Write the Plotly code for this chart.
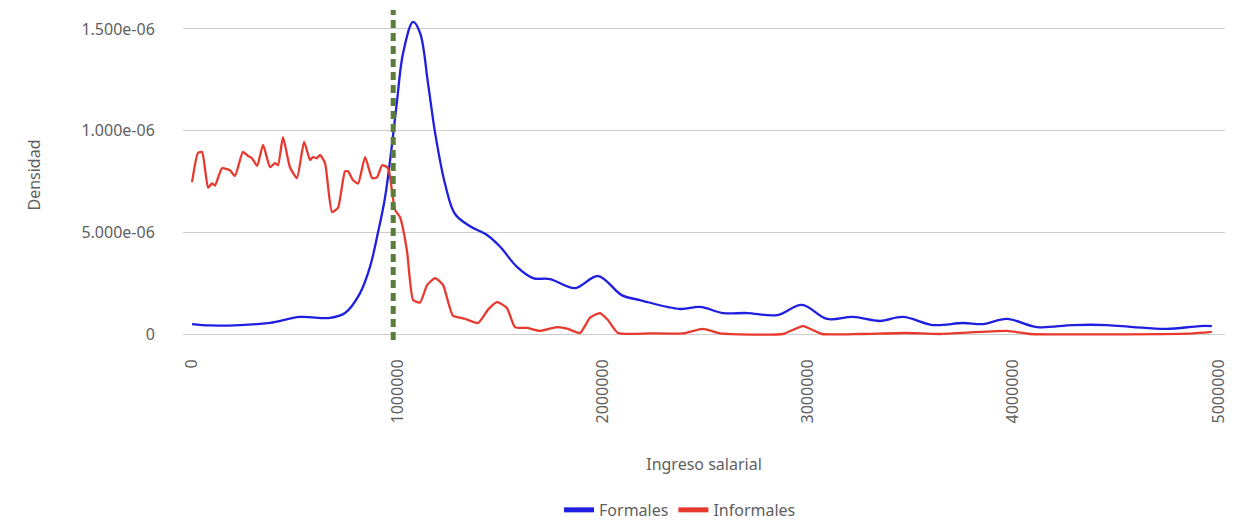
import plotly.graph_objects as go

# Curvas de densidad
ingreso_formales = [0, 88000, 234000, 380000, 526000, 672000, 745000, 818000, 867000, 906000,
                    940000, 974000, 999000, 1028000, 1077000, 1111000, 1150000, 1184000, 1232000,
                    1281000, 1354000, 1437000, 1500000, 1583000, 1661000, 1744000, 1866000,
                    1978000, 2095000, 2182000, 2377000, 2475000, 2587000, 2704000, 2850000,
                    2971000, 3093000, 3220000, 3351000, 3463000, 3609000, 3756000, 3853000,
                    3970000, 4116000, 4291000, 4457000, 4584000, 4749000, 4910000, 4968000]
densidad_formales = [0.049, 0.042, 0.044, 0.055, 0.084, 0.079, 0.103, 0.20, 0.33, 0.50,
                     0.67, 0.93, 1.15, 1.38, 1.535, 1.48, 1.23, 0.99, 0.74,
                     0.59, 0.53, 0.487, 0.43, 0.33, 0.275, 0.27, 0.226,
                     0.285, 0.19, 0.167, 0.123, 0.133, 0.103, 0.103, 0.093,
                     0.143, 0.074, 0.084, 0.064, 0.084, 0.044, 0.054, 0.049,
                     0.074, 0.034, 0.044, 0.044, 0.034, 0.025, 0.039, 0.039]

ingreso_informales = [0, 29000, 49000, 78000, 97000, 112000, 146000, 185000, 209000, 248000,
                      273000, 292000, 317000, 346000, 380000, 404000, 419000, 443000, 477000,
                      511000, 546000, 575000, 589000, 609000, 624000, 648000, 682000, 711000,
                      745000, 760000, 784000, 809000, 843000, 877000, 901000, 926000, 950000,
                      960000, 989000, 1013000, 1047000, 1077000, 1111000, 1145000, 1184000,
                      1223000, 1271000, 1330000, 1393000, 1442000, 1486000, 1534000, 1573000,
                      1632000, 1695000, 1778000, 1832000, 1890000, 1939000, 1987000, 2026000,
                      2075000, 2231000, 2392000, 2489000, 2572000, 2879000, 2976000, 3069000,
                      3254000, 3473000, 3643000, 3970000, 4082000, 4861000, 4968000]
densidad_informales = [0.747, 0.89, 0.895, 0.72, 0.74, 0.73, 0.815, 0.805, 0.777, 0.895,
                       0.875, 0.865, 0.826, 0.93, 0.82, 0.84, 0.83, 0.968, 0.82,
                       0.767, 0.944, 0.855, 0.87, 0.865, 0.88, 0.84, 0.60, 0.62,
                       0.80, 0.80, 0.757, 0.74, 0.87, 0.767, 0.77, 0.83, 0.82,
                       0.80, 0.61, 0.575, 0.41, 0.167, 0.155, 0.24, 0.275,
                       0.24, 0.09, 0.075, 0.054, 0.12, 0.157, 0.128, 0.034,
                       0.03, 0.015, 0.034, 0.025, 0.005, 0.08, 0.103, 0.069,
                       0.005, 0.003, 0.003, 0.025, 0.003, 0.0, 0.039, 0.0,
                       0.0, 0.005, 0.0, 0.015, 0.0, 0.002, 0.01]

salario_minimo = 980000

y_ticks = [0, 0.5e-6, 1.0e-6, 1.5e-6]
y_labels = ['0', '5.000e-06', '1.000e-06', '1.500e-06']
x_ticks = [0, 1000000, 2000000, 3000000, 4000000, 5000000]

azul = '#1f1fe0'
rojo = '#e8392f'
escala = 1e-6

trace1 = go.Scatter(x=ingreso_formales, y=[d * escala for d in densidad_formales],
                    mode='lines', name='Formales', showlegend=False,
                    line=dict(color=azul, width=2.3, shape='spline', smoothing=1.0))
trace2 = go.Scatter(x=ingreso_informales, y=[d * escala for d in densidad_informales],
                    mode='lines', name='Informales', showlegend=False,
                    line=dict(color=rojo, width=2.3, shape='spline', smoothing=0.5))
# entradas de leyenda con trazo grueso
leg1 = go.Scatter(x=[None], y=[None], mode='lines', name='Formales',
                  line=dict(color=azul, width=5))
leg2 = go.Scatter(x=[None], y=[None], mode='lines', name='Informales',
                  line=dict(color=rojo, width=5))

fig = go.Figure(data=[trace1, trace2, leg1, leg2])

fig.add_shape(type='line', x0=salario_minimo, x1=salario_minimo, y0=0, y1=1,
              xref='x', yref='paper',
              line=dict(color='#5b7d3c', width=5, dash='8px,5px'))

# la pagina tiene 8px de margen, por eso la figura es 1232x514
fig.update_layout(
    width=1232, height=514,
    margin=dict(l=175, r=15, t=2, b=182, autoexpand=False),
    plot_bgcolor='white', paper_bgcolor='white',
    font=dict(family='Noto Sans', size=16, color='#5f5f5f'),
    showlegend=True,
    legend=dict(orientation='h', x=0.477, xanchor='center', y=-0.515, yanchor='middle',
                font=dict(size=16)),
    xaxis=dict(range=[-44000, 5032000], tickvals=x_ticks, ticktext=[str(v) for v in x_ticks],
               tickangle=-90, showgrid=False, zeroline=False, showline=False,
               ticks='outside', ticklen=12, tickcolor='rgba(0,0,0,0)', automargin=False,
               title=dict(text='Ingreso salarial', standoff=36, font=dict(size=16))),
    yaxis=dict(range=[-0.0295e-6, 1.593e-6], tickvals=y_ticks, ticktext=y_labels,
               showgrid=True, gridcolor='#cccccc', gridwidth=1, zeroline=False, showline=False,
               ticks='outside', ticklen=24, tickcolor='rgba(0,0,0,0)', automargin=False,
               title=dict(text='Densidad', standoff=36, font=dict(size=16))),
)

fig.write_html('out.html')
